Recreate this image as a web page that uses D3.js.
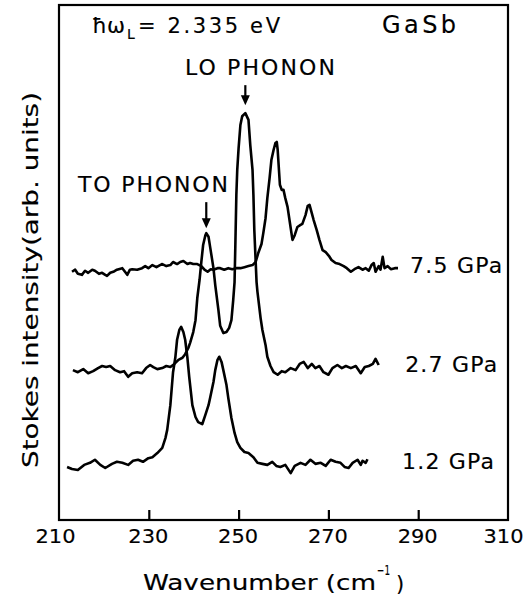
<!DOCTYPE html>
<html>
<head>
<meta charset="utf-8">
<script src="https://cdn.jsdelivr.net/npm/d3@7"></script>
<style>
  html, body { margin: 0; padding: 0; background: #fff; }
  svg { display: block; }
  text { font-family: "DejaVu Sans", sans-serif; fill: #000; stroke: #000; stroke-width: 0.15; }
</style>
</head>
<body>
<svg id="chart" width="526" height="603"></svg>
<script>
// Raman (Stokes) spectra of GaSb at three pressures: [wavenumber cm^-1, intensity a.u.]
const spectrum12 = [
  [211.8,10.3],[212.9,9.9],[214.2,9.7],[215.6,10.7],[216.9,11.1],[218.0,11.7],[219.2,10.7],[220.3,10.1],
  [221.8,10.9],[222.9,11.3],[224.1,11.1],[225.4,10.7],[226.5,11.5],[227.6,11.7],[228.7,11.3],[229.9,12.0],
  [230.8,12.2],[231.9,13.0],[233.0,14.0],[233.7,15.9],[234.1,17.5],[234.8,22.3],[235.4,28.7],[235.9,31.5],
  [236.3,35.0],[236.8,36.9],[237.2,37.5],[237.7,36.5],[238.1,35.0],[238.6,31.5],[239.0,27.8],[239.7,22.3],
  [240.4,20.0],[241.0,19.0],[241.9,18.6],[242.6,20.4],[243.3,22.3],[243.7,23.9],[244.4,26.8],[244.8,29.1],
  [245.3,31.1],[245.7,31.7],[246.2,30.7],[246.6,29.1],[247.3,26.2],[247.7,23.7],[248.4,19.8],[249.1,16.9],
  [249.7,15.1],[250.4,14.0],[251.3,13.2],[252.2,13.0],[253.3,12.2],[254.2,11.1],[255.3,10.9],[256.4,10.7],
  [257.5,11.3],[258.4,10.5],[259.3,10.3],[260.4,10.7],[261.6,9.1],[262.5,10.5],[263.8,11.1],[264.9,10.7],
  [266.0,11.7],[267.1,10.9],[268.3,11.1],[269.4,10.5],[270.5,11.7],[271.6,11.3],[272.7,11.1],[273.6,10.3],
  [274.5,10.1],[275.4,11.1],[276.5,11.7],[277.2,10.7],[277.6,11.5],[278.3,11.1],[278.7,11.8]
];
const spectrum27 = [
  [213.1,29.1],[214.2,28.7],[215.4,29.3],[216.5,28.5],[217.6,28.9],[218.7,29.5],[219.6,29.9],[220.5,29.7],
  [221.4,29.9],[222.5,29.1],[223.6,28.7],[224.5,28.9],[225.4,27.8],[226.3,28.5],[227.4,28.7],[228.5,28.5],
  [229.4,29.5],[230.3,30.1],[231.0,29.7],[231.9,29.3],[233.0,29.5],[233.9,29.9],[234.8,29.7],[235.7,30.3],
  [236.6,31.1],[237.5,31.5],[238.1,32.2],[238.8,33.4],[239.2,34.4],[239.9,36.5],[240.4,38.8],[240.8,43.1],
  [241.3,46.6],[241.7,50.1],[242.1,53.4],[242.6,55.3],[242.8,55.7],[243.3,55.0],[243.7,52.8],[244.4,48.9],
  [244.8,45.6],[245.5,40.8],[245.9,37.7],[246.6,36.3],[247.3,36.5],[247.9,37.3],[248.4,38.8],[248.8,42.7],
  [249.1,46.2],[249.3,54.4],[249.5,63.1],[249.7,68.0],[250.0,72.2],[250.4,76.7],[250.8,78.4],[251.5,79.0],
  [252.2,77.7],[252.6,72.8],[253.1,68.0],[253.3,63.1],[253.5,56.3],[254.0,46.2],[254.2,44.3],[254.9,39.2],
  [255.3,36.9],[256.0,34.0],[256.4,31.7],[257.1,29.9],[257.8,28.7],[258.7,28.2],[259.6,28.9],[260.4,28.7],
  [261.6,29.5],[262.7,29.1],[263.6,30.3],[264.5,30.7],[265.4,29.5],[266.3,30.3],[267.1,29.5],[268.0,29.9],
  [268.9,28.7],[270.0,28.2],[270.9,29.5],[272.0,30.1],[273.0,29.5],[273.9,29.9],[275.0,29.5],[276.1,29.9],
  [277.2,28.5],[278.1,29.7],[279.0,29.9],[279.9,30.3],[280.5,31.3],[281.2,30.1]
];
const spectrum75 = [
  [212.9,48.2],[213.6,48.6],[214.2,47.8],[215.1,47.6],[215.8,48.4],[216.5,48.0],[217.4,48.6],[218.0,48.4],
  [218.9,47.8],[219.6,48.0],[220.3,47.6],[220.7,47.4],[221.4,48.0],[222.1,48.2],[222.9,48.6],[224.1,48.9],
  [224.7,48.2],[225.2,47.6],[225.8,48.6],[226.3,48.7],[227.4,48.6],[228.5,48.9],[229.2,49.3],[229.9,48.9],
  [230.8,49.5],[231.7,49.1],[232.5,49.5],[233.0,49.7],[233.9,49.3],[234.8,49.5],[235.4,50.1],[236.3,49.7],
  [237.0,50.1],[237.7,50.3],[238.6,49.7],[239.2,49.9],[239.9,49.7],[240.8,49.7],[241.7,49.3],[242.4,48.6],
  [243.1,48.2],[243.8,48.7],[244.4,48.6],[245.3,48.9],[245.9,48.9],[246.8,48.6],[247.7,48.9],[248.6,48.7],
  [249.5,48.9],[250.4,48.9],[251.3,49.1],[252.2,49.3],[253.1,49.5],[253.8,50.1],[254.4,51.9],[255.1,53.6],
  [255.5,55.7],[256.0,58.6],[256.4,62.5],[256.9,66.4],[257.3,69.9],[257.8,71.9],[258.2,73.2],[258.5,73.4],
  [258.7,71.9],[259.2,65.1],[259.6,64.1],[260.0,64.1],[260.4,62.5],[260.9,60.8],[261.6,56.7],[262.0,54.4],
  [262.5,55.3],[263.1,56.9],[263.8,57.3],[264.2,57.5],[264.9,59.2],[265.4,61.0],[265.8,61.2],[266.3,59.6],
  [266.7,58.3],[267.4,56.3],[268.0,54.4],[268.7,52.4],[269.4,52.0],[270.1,51.3],[270.7,50.5],[271.6,49.9],
  [272.5,49.7],[273.4,49.3],[274.1,48.9],[275.0,48.2],[275.8,48.7],[276.7,49.1],[277.6,48.6],[278.3,48.9],
  [279.0,48.4],[279.6,49.5],[280.1,49.9],[280.5,48.2],[281.2,49.3],[281.6,48.6],[282.1,51.1],[282.5,48.9],
  [283.2,49.3],[283.9,48.7],[284.8,48.9],[285.5,48.9]
];

const pressureLabels = ["1.2 GPa", "2.7 GPa", "7.5 GPa"];
const pressureLabelWn = [286.4, 287.1, 288.2];
const xTicks = [210, 230, 250, 270, 290, 310];
// Peaks marked on the 2.7 GPa spectrum: [label, search range low, high]
const peakMarks = [["TO PHONON", 240, 246], ["LO PHONON", 248, 255]];

const svg = d3.select("#chart");
const x = d3.scaleLinear().domain([210, 310]).range([59, 508]);
const y = d3.scaleLinear().domain([0, 100]).range([520, 5]);

// frame
svg.append("rect")
  .attr("x", x(210)).attr("y", y(100))
  .attr("width", x(310) - x(210)).attr("height", y(0) - y(100))
  .attr("fill", "none").attr("stroke", "#000").attr("stroke-width", 2.2);

// bottom axis with inward ticks
const axis = svg.append("g")
  .attr("transform", `translate(0,${y(0)})`)
  .call(d3.axisBottom(x).tickValues(xTicks).tickFormat(d3.format("d"))
        .tickSizeInner(-10).tickSizeOuter(0));
axis.select(".domain").remove();
axis.selectAll(".tick line").attr("stroke", "#000").attr("stroke-width", 2.2)
  .attr("opacity", d => (d === 210 || d === 310) ? 0 : 1);
axis.selectAll(".tick text")
  .attr("y", 23).attr("dy", 0)
  .attr("dx", d => d === 210 ? -4 : d === 310 ? -5 : -1)
  .attr("font-size", 20).attr("font-family", "DejaVu Sans")
  .attr("textLength", 40).attr("lengthAdjust", "spacingAndGlyphs");

// spectra
const line = d3.line().x(d => x(d[0])).y(d => y(d[1]));
const spectra = [spectrum12, spectrum27, spectrum75];
svg.append("g").selectAll("path").data(spectra).join("path")
  .attr("d", line)
  .attr("fill", "none").attr("stroke", "#000")
  .attr("stroke-width", 2.6).attr("stroke-linejoin", "round");

// pressure labels at the baseline level of each spectrum
spectra.forEach((s, i) => {
  const base = d3.mean(s.slice(-12), d => d[1]);
  svg.append("text")
    .attr("x", x(pressureLabelWn[i])).attr("y", y(base) + 6)
    .attr("font-size", 22)
    .attr("textLength", 92).attr("lengthAdjust", "spacing")
    .text(pressureLabels[i]);
});

// phonon arrows and labels
const arrowSpec = [{len: 26, gap: 5, tx: 78, ty: 192}, {len: 20, gap: 8, tx: 185, ty: 75}];
peakMarks.forEach((m, i) => {
  const pts = spectrum27.filter(d => d[0] >= m[1] && d[0] <= m[2]);
  const peak = pts.reduce((a, b) => b[1] > a[1] ? b : a);
  const px = x(peak[0]), tip = y(peak[1]) - arrowSpec[i].gap;
  const top = tip - arrowSpec[i].len;
  svg.append("line").attr("x1", px).attr("x2", px).attr("y1", top).attr("y2", tip - 6)
    .attr("stroke", "#000").attr("stroke-width", 2.2);
  svg.append("path")
    .attr("d", `M${px - 4.5},${tip - 10}L${px + 4.5},${tip - 10}L${px},${tip}Z`)
    .attr("fill", "#000");
  svg.append("text")
    .attr("x", arrowSpec[i].tx).attr("y", arrowSpec[i].ty)
    .attr("font-size", 22)
    .attr("textLength", 150).attr("lengthAdjust", "spacing")
    .text(m[0]);
});

// excitation energy and sample
svg.append("text").attr("x", 92).attr("y", 33).attr("font-size", 22)
  .attr("textLength", 33).attr("lengthAdjust", "spacingAndGlyphs").text("ħω");
svg.append("text").attr("x", 127).attr("y", 39).attr("font-size", 14).text("L");
svg.append("text").attr("x", 138).attr("y", 33).attr("font-size", 21)
  .attr("textLength", 142).attr("lengthAdjust", "spacing").text("= 2.335 eV");
svg.append("text").attr("x", 382).attr("y", 33).attr("font-size", 24)
  .attr("textLength", 74).attr("lengthAdjust", "spacing").text("GaSb");

// axis titles
svg.append("text").attr("x", 143).attr("y", 590).attr("font-size", 21)
  .attr("textLength", 233).attr("lengthAdjust", "spacingAndGlyphs").text("Wavenumber (cm");
svg.append("text").attr("x", 377).attr("y", 575).attr("font-size", 14)
  .attr("textLength", 13).attr("lengthAdjust", "spacingAndGlyphs").text("−1");
svg.append("text").attr("x", 396).attr("y", 591).attr("font-size", 21).text(")");

svg.append("text")
  .attr("transform", "translate(38,280) rotate(-90)")
  .attr("text-anchor", "middle")
  .attr("font-size", 21)
  .attr("textLength", 376).attr("lengthAdjust", "spacingAndGlyphs")
  .text("Stokes intensity(arb. units)");
</script>
</body>
</html>
